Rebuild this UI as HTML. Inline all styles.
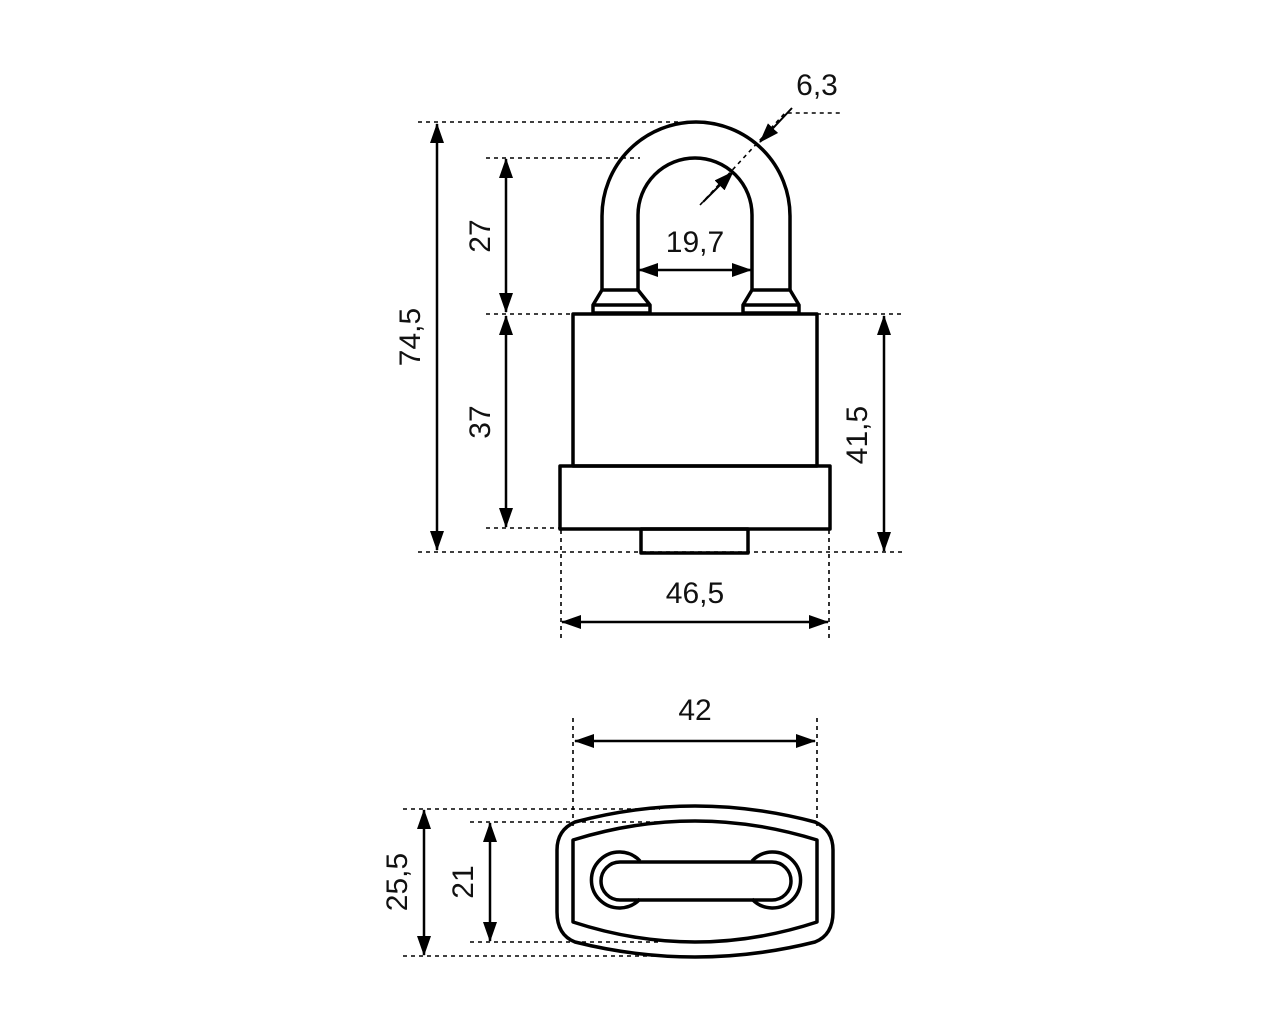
<!DOCTYPE html>
<html><head><style>body{margin:0;background:#fff}svg{display:block}text{font-family:"Liberation Sans",sans-serif;font-size:30px;fill:#111}</style></head><body>
<svg width="1280" height="1024" viewBox="0 0 1280 1024">
<defs><marker id="b" markerWidth="20" markerHeight="14" refX="19" refY="7" orient="auto-start-reverse" markerUnits="userSpaceOnUse"><path d="M0,0 L20,7 L0,14Z" fill="#000"/></marker></defs>
<g stroke="#000" stroke-width="1.6" stroke-dasharray="4,4" fill="none">
<path d="M418,122H680M486,158H640M486,314H573M817,314H905M486,528H560M418,552H905M561,530V640M829,530V640"/>
<path d="M573,718V830M817,718V830M403,809H660M470,822H660M470,942H660M403,956H660"/>
<path d="M700,205L785,113H843"/>
</g>
<g stroke="#000" stroke-width="3.5" fill="none" stroke-linejoin="round">
<path d="M602,290V216A94,94 0 0 1 790,216V290"/>
<path d="M638,290V215A57,57 0 0 1 752,215V290"/>
<path d="M602,290L593,305V313H650V305L638,290Z M594,305H650"/>
<path d="M752,290L743,305V313H799V305L790,290Z M743,305H799"/>
<rect x="573" y="314" width="244" height="152"/>
<rect x="560" y="466" width="270" height="63"/>
<rect x="641" y="529" width="107" height="24"/>
<path d="M575,822Q695,790 815,822Q833,830 833,850L833,912Q833,935 815,942Q695,972 575,942Q557,935 557,912L557,850Q557,830 575,822Z"/>
<path d="M573,840Q695,802 817,840L817,922Q695,962 573,922Z"/>
<path d="M620,862H772A19,19 0 0 1 772,900H620A19,19 0 0 1 620,862Z"/>
<path d="M640,861A28,28 0 1 0 640,899M752,861A28,28 0 1 1 752,899"/>
</g>
<g stroke="#000" stroke-width="2.5" fill="none" marker-end="url(#b)" marker-start="url(#b)">
<path d="M437,124V550"/><path d="M506,159V312"/><path d="M506,316V527"/><path d="M884,316V551"/>
<path d="M562,622H828"/><path d="M639,270H751"/>
<path d="M575,741H815"/><path d="M424,810V955"/><path d="M490,823V941"/>
</g>
<g stroke="#000" stroke-width="2" marker-end="url(#b)"><path d="M792,108L760,142"/><path d="M703,202L733,172"/></g>
<text x="817" y="95" text-anchor="middle">6,3</text>
<text x="695" y="252" text-anchor="middle">19,7</text>
<text x="695" y="603" text-anchor="middle">46,5</text>
<text x="695" y="720" text-anchor="middle">42</text>
<text transform="translate(420,337) rotate(-90)" text-anchor="middle">74,5</text>
<text transform="translate(490,236) rotate(-90)" text-anchor="middle">27</text>
<text transform="translate(490,422) rotate(-90)" text-anchor="middle">37</text>
<text transform="translate(867,435) rotate(-90)" text-anchor="middle">41,5</text>
<text transform="translate(407,882) rotate(-90)" text-anchor="middle">25,5</text>
<text transform="translate(473,882) rotate(-90)" text-anchor="middle">21</text>
</svg></body></html>
